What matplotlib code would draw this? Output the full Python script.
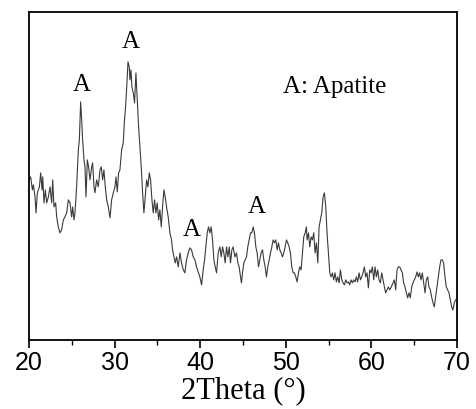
import matplotlib
matplotlib.use("Agg")
import matplotlib.pyplot as plt
from matplotlib.ticker import MultipleLocator

two_theta = [20.00, 20.19, 20.39, 20.51, 20.70, 20.82, 20.97, 21.21, 21.36, 21.52, 21.60, 21.75, 21.91, 22.06, 22.26,
             22.45, 22.65, 22.76, 22.92, 23.11, 23.23, 23.42, 23.62, 23.81, 24.01, 24.20, 24.40, 24.59, 24.79, 24.98,
             25.10, 25.25, 25.37, 25.56, 25.76, 25.88, 26.03, 26.15, 26.26, 26.42, 26.54, 26.65, 26.73, 26.81, 26.96,
             27.12, 27.32, 27.43, 27.59, 27.70, 27.90, 28.09, 28.29, 28.44, 28.60, 28.75, 28.91, 29.07, 29.26, 29.46,
             29.65, 29.84, 30.04, 30.16, 30.31, 30.47, 30.62, 30.82, 31.01, 31.13, 31.28, 31.44, 31.56, 31.71, 31.79,
             31.91, 32.02, 32.18, 32.33, 32.49, 32.65, 32.80, 32.96, 33.15, 33.27, 33.42, 33.58, 33.74, 33.89, 34.05,
             34.20, 34.36, 34.51, 34.67, 34.82, 34.98, 35.14, 35.29, 35.45, 35.60, 35.76, 35.91, 36.07, 36.26, 36.46,
             36.65, 36.77, 36.93, 37.08, 37.24, 37.43, 37.63, 37.82, 38.02, 38.21, 38.40, 38.60, 38.79, 38.99, 39.18,
             39.38, 39.57, 39.81, 39.96, 40.16, 40.35, 40.51, 40.66, 40.82, 40.97, 41.13, 41.28, 41.44, 41.60, 41.75,
             41.91, 42.10, 42.30, 42.45, 42.61, 42.76, 42.92, 43.07, 43.23, 43.39, 43.54, 43.70, 43.85, 44.05, 44.24,
             44.40, 44.55, 44.71, 44.82, 44.94, 45.10, 45.25, 45.41, 45.56, 45.72, 45.88, 46.03, 46.19, 46.34, 46.50,
             46.65, 46.81, 46.96, 47.12, 47.28, 47.43, 47.59, 47.74, 47.90, 48.05, 48.21, 48.37, 48.52, 48.68, 48.83,
             48.99, 49.14, 49.30, 49.46, 49.61, 49.77, 49.92, 50.08, 50.23, 50.39, 50.54, 50.70, 50.86, 51.01, 51.17,
             51.32, 51.48, 51.63, 51.79, 51.95, 52.10, 52.26, 52.33, 52.41, 52.49, 52.65, 52.80, 52.96, 53.11, 53.27,
             53.42, 53.58, 53.74, 53.89, 54.05, 54.20, 54.36, 54.51, 54.67, 54.82, 54.98, 55.14, 55.29, 55.45, 55.60,
             55.76, 55.91, 56.07, 56.23, 56.38, 56.54, 56.69, 56.85, 57.00, 57.16, 57.32, 57.47, 57.63, 57.78, 57.94,
             58.09, 58.25, 58.40, 58.56, 58.72, 58.87, 59.03, 59.18, 59.34, 59.49, 59.65, 59.81, 59.96, 60.12, 60.27,
             60.43, 60.58, 60.74, 60.89, 61.05, 61.21, 61.36, 61.52, 61.67, 61.83, 61.98, 62.14, 62.33, 62.53, 62.68,
             62.84, 63.00, 63.15, 63.31, 63.46, 63.62, 63.77, 63.93, 64.09, 64.24, 64.40, 64.55, 64.71, 64.86, 65.02,
             65.18, 65.33, 65.49, 65.64, 65.80, 65.95, 66.11, 66.27, 66.42, 66.58, 66.73, 66.89, 67.04, 67.20, 67.35,
             67.51, 67.67, 67.82, 67.98, 68.13, 68.29, 68.44, 68.60, 68.75, 68.91, 69.07, 69.22, 69.38, 69.53, 69.69,
             69.84]

intensity = [160, 163, 150, 155, 143, 127, 147, 153, 167, 150, 163, 137, 150, 137, 143,
             153, 137, 160, 133, 137, 123, 113, 107, 110, 120, 123, 127, 140, 137, 123,
             133, 120, 127, 153, 190, 200, 238, 220, 200, 180, 173, 143, 160, 180, 173,
             160, 173, 177, 153, 147, 160, 153, 170, 173, 160, 170, 153, 140, 133, 122,
             140, 147, 153, 163, 148, 167, 170, 190, 197, 217, 233, 257, 278, 273, 260,
             270, 253, 247, 237, 267, 240, 213, 193, 167, 147, 127, 143, 160, 153, 167,
             160, 140, 127, 140, 127, 137, 120, 130, 113, 133, 150, 143, 133, 123, 107,
             100, 90, 83, 77, 83, 73, 87, 77, 70, 67, 80, 87, 92, 90, 83,
             80, 73, 67, 63, 55, 70, 80, 93, 107, 113, 107, 113, 100, 80, 73,
             67, 87, 93, 83, 93, 87, 77, 93, 83, 93, 77, 90, 93, 83, 87,
             77, 73, 63, 57, 67, 77, 80, 83, 93, 100, 107, 107, 113, 107, 93,
             87, 73, 80, 87, 90, 80, 73, 63, 73, 80, 87, 93, 100, 97, 100,
             90, 97, 90, 87, 83, 87, 93, 100, 97, 93, 87, 73, 67, 67, 63,
             58, 67, 73, 70, 87, 103, 107, 110, 113, 100, 107, 93, 103, 100, 107,
             87, 97, 77, 113, 120, 127, 143, 147, 133, 107, 87, 67, 63, 67, 60,
             67, 58, 63, 57, 70, 60, 57, 55, 60, 57, 58, 55, 60, 57, 60,
             58, 63, 58, 67, 60, 63, 67, 73, 63, 67, 52, 70, 67, 73, 60,
             73, 63, 70, 60, 57, 67, 60, 53, 47, 50, 53, 50, 53, 57, 60,
             50, 70, 73, 73, 70, 67, 57, 53, 47, 42, 47, 42, 53, 57, 60,
             63, 68, 63, 67, 60, 67, 57, 47, 60, 63, 53, 50, 43, 37, 33,
             43, 53, 63, 73, 80, 80, 77, 63, 53, 50, 47, 40, 33, 30, 37,
             40]

peak_labels = ["A", "A", "A", "A"]
peak_x = [26.19, 31.9, 39.03, 46.6]
peak_y = [255, 298, 110, 133]
legend_text = "A: Apatite"
x_ticks = [20, 30, 40, 50, 60, 70]

fig = plt.figure(figsize=(4.76, 4.09), dpi=100)
ax = fig.add_axes([0.061, 0.169, 0.899, 0.802])
ax.plot(two_theta, intensity, color="#3a3a3a", lw=0.8)
ax.set_xlim(20, 70)
ax.set_ylim(0, 328)
ax.set_xticks(x_ticks)
ax.xaxis.set_minor_locator(MultipleLocator(5))
ax.set_yticks([])
ax.tick_params(axis="x", which="major", direction="out", length=6, width=1.2,
               labelsize=18, pad=2)
ax.tick_params(axis="x", which="minor", direction="out", length=3.5, width=1.0)
for lab in ax.get_xticklabels():
    lab.set_fontfamily("Liberation Sans")
for sp in ax.spines.values():
    sp.set_linewidth(1.3)

ax.set_xlabel("2Theta (°)", fontfamily="Liberation Serif", fontsize=22, labelpad=1)

for t, x, y in zip(peak_labels, peak_x, peak_y):
    ax.text(x, y, t, ha="center", va="center", fontfamily="Liberation Serif", fontsize=18)
ax.text(49.65, 253, legend_text, ha="left", va="center",
        fontfamily="Liberation Serif", fontsize=18)

fig.savefig("out.png", dpi=100)
